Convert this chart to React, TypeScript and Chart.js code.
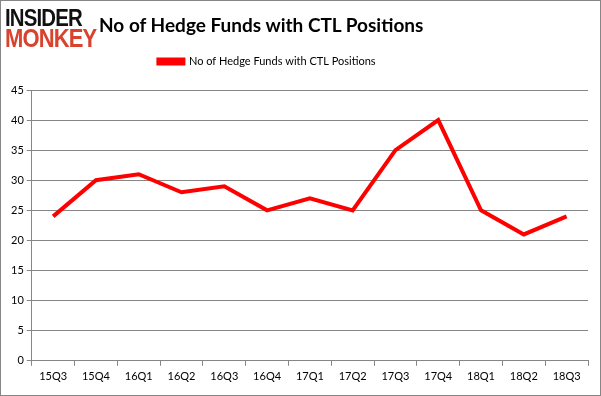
import React, { useEffect, useRef } from "react";
import { Chart, registerables } from "chart.js";

Chart.register(...registerables);

const categories = ["15Q3","15Q4","16Q1","16Q2","16Q3","16Q4","17Q1","17Q2","17Q3","17Q4","18Q1","18Q2","18Q3"];
const fundCounts = [24, 30, 31, 28, 29, 25, 27, 25, 35, 40, 25, 21, 24];
const seriesLabel = "No of Hedge Funds with CTL Positions";
const titleText = "No of Hedge Funds with CTL Positions";

const legendSpacer = {
  id: "legendSpacer",
  beforeInit(chart: any) {
    const lg = chart.legend;
    const origFit = lg.fit;
    lg.fit = function () {
      origFit.call(this);
      this.height += 13;
    };
    const origDraw = lg.draw;
    lg.draw = function () {
      const ctx = this.ctx;
      ctx.save();
      ctx.translate(-31, 0);
      origDraw.call(this);
      ctx.restore();
    };
  },
};

export default function App() {
  const ref = useRef<HTMLCanvasElement | null>(null);
  useEffect(() => {
    document.body.style.margin = "0";
    const chart = new Chart(ref.current!, {
      type: "line",
      data: {
        labels: categories,
        datasets: [{
          label: seriesLabel,
          data: fundCounts,
          borderColor: "#ff0000",
          backgroundColor: "#ff0000",
          borderWidth: 4,
          pointRadius: 0,
          tension: 0,
        }],
      },
      plugins: [legendSpacer],
      options: {
        responsive: false,
        animation: false,
        layout: { padding: { top: 45, left: 7, right: 12, bottom: 8 } },
        plugins: {
          title: { display: false },
          tooltip: { enabled: false },
          legend: {
            display: true,
            position: "top",
            labels: {
              boxWidth: 25,
              boxHeight: 4,
              color: "#000",
              font: { family: "Lato", size: 11 },
              padding: 10,
            },
          },
        },
        scales: {
          x: {
            offset: true,
            grid: { offset: true, drawOnChartArea: false, drawTicks: true, tickLength: 5, color: "#868686" },
            border: { display: true, color: "#868686" },
            ticks: { color: "#000", font: { family: "Lato", size: 11 }, maxRotation: 0, padding: 4 },
          },
          y: {
            min: 0, max: 45,
            grid: { color: "#868686", tickLength: 5, drawTicks: true },
            border: { display: true, color: "#868686" },
            ticks: { stepSize: 5, color: "#000", font: { family: "Lato", size: 11 }, padding: 3 },
          },
        },
      },
    });
    return () => chart.destroy();
  }, []);
  return (
    <div style={{ position: "absolute", left: 0, top: 0, width: 601, height: 396, boxSizing: "border-box", border: "1px solid #868686", background: "#fff", overflow: "hidden" }}>
      <canvas ref={ref} width={599} height={394} style={{ position: "absolute", left: 0, top: 0 }} />
      <div style={{ position: "absolute", left: 4, top: 6, fontFamily: "Liberation Sans", fontWeight: 900, lineHeight: "21px", letterSpacing: -1 }}>
        <div style={{ color: "#111", fontSize: 24, transform: "scaleX(0.85)", transformOrigin: "left" }}>INSIDER</div>
        <div style={{ color: "#d9432e", fontSize: 25, transform: "scaleX(0.88)", transformOrigin: "left" }}>MONKEY</div>
      </div>
      <div style={{ position: "absolute", left: 98, top: 12, fontFamily: "Lato", fontWeight: 700, fontSize: 19, color: "#000", whiteSpace: "nowrap" }}>{titleText}</div>
    </div>
  );
}
